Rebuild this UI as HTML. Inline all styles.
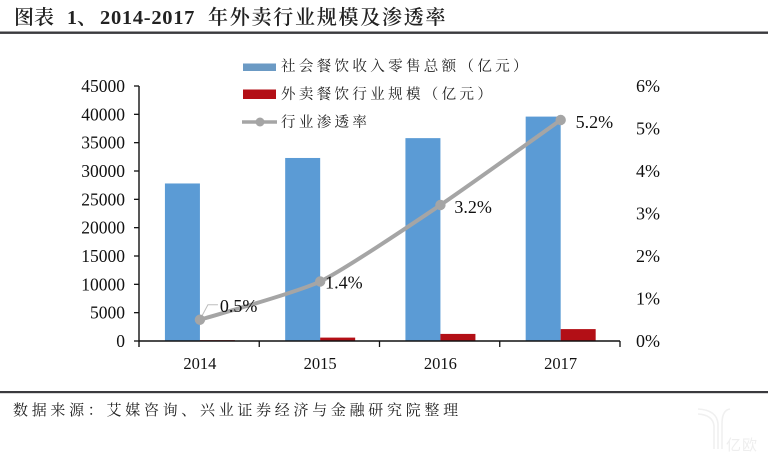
<!DOCTYPE html>
<html lang="zh">
<head>
<meta charset="utf-8">
<title>外卖行业规模及渗透率</title>
<style>
html,body{margin:0;padding:0;background:#fff;}
body{width:768px;height:459px;overflow:hidden;position:relative;}
svg{display:block;position:absolute;left:0;top:0;}
.cjk{font-family:"Liberation Serif","Noto Serif CJK SC",serif;fill:#222;}
.num{font-family:"Liberation Serif",serif;fill:#111;font-size:17.5px;}
</style>
</head>
<body>
<svg id="chart" width="768" height="459" viewBox="0 0 768 459" xmlns="http://www.w3.org/2000/svg">
  <text class="cjk" y="24" font-size="20" font-weight="600"><tspan x="14">图表</tspan><tspan x="67">1、</tspan><tspan x="100" letter-spacing="0.7" font-size="20.5">2014-2017</tspan><tspan x="208" letter-spacing="1.75">年外卖行业规模及渗透率</tspan></text>
  <rect x="0" y="31.5" width="768" height="2.4" fill="#3a3a3e"></rect>
  <rect x="0" y="391" width="768" height="2.2" fill="#3a3a3e"></rect>
  <text class="cjk" x="13" y="415" font-size="15" letter-spacing="3.7">数据来源：艾媒咨询、兴业证券经济与金融研究院整理</text>

  <g>
    <rect x="243" y="63.5" width="33" height="7.5" fill="#6b9ac4"></rect>
    <text class="cjk" x="281" y="71" font-size="14.5" letter-spacing="3.35">社会餐饮收入零售总额（亿元）</text>
    <rect x="243" y="89.5" width="33" height="9.5" fill="#b30f16"></rect>
    <text class="cjk" x="281" y="99" font-size="14.5" letter-spacing="3.35">外卖餐饮行业规模（亿元）</text>
    <line x1="242" y1="122" x2="277" y2="122" stroke="#a5a5a5" stroke-width="3.5"></line>
    <circle cx="260" cy="122" r="4.5" fill="#a5a5a5"></circle>
    <text class="cjk" x="281" y="127" font-size="14.5" letter-spacing="3.35">行业渗透率</text>
  </g>

  <g fill="none" stroke="#f0f0f0" stroke-width="1.6">
    <path d="M698 409 Q717 410 718 424 V449"></path>
    <path d="M698 414 Q713 415 714 426 V449"></path>
    <path d="M730 409 Q722 410 722 424 V449"></path>
    <text x="726" y="450" font-family="'Noto Sans CJK SC',sans-serif" font-size="15" letter-spacing="1" fill="#eeeeee" stroke="none">亿欧</text>
  </g>
</svg>
<script>
var categories = ['2014', '2015', '2016', '2017'];
var totalCatering = [27800, 32300, 35800, 39600];
var takeaway = [150, 600, 1250, 2100];
var penetration = [0.5, 1.4, 3.2, 5.2];
var penetrationLabels = ['0.5%', '1.4%', '3.2%', '5.2%'];
var leftTicks = [0, 5000, 10000, 15000, 20000, 25000, 30000, 35000, 40000, 45000];
var rightTicks = [0, 1, 2, 3, 4, 5, 6];

var svgNS = 'http://www.w3.org/2000/svg';
var svg = document.getElementById('chart');
var plotLeft = 139, plotRight = 620, plotTop = 86, plotBottom = 341;
var leftMax = 45000, rightMax = 6;

function yLeft(v) { return plotBottom - (v / leftMax) * (plotBottom - plotTop); }
function yRight(v) { return plotBottom - (v / rightMax) * (plotBottom - plotTop); }
function xBand(i) { return plotLeft + i * (plotRight - plotLeft) / categories.length; }
function xCenter(i) { return xBand(i) + (plotRight - plotLeft) / categories.length / 2 + 0.8; }

function make(tag, attrs, text) {
  var el = document.createElementNS(svgNS, tag);
  for (var k in attrs) { el.setAttribute(k, attrs[k]); }
  if (text !== undefined) { el.textContent = text; }
  svg.appendChild(el);
  return el;
}

var barW = 35;
categories.forEach(function (c, i) {
  var cx = xCenter(i);
  var b1 = make('rect', { x: cx - barW, y: yLeft(totalCatering[i]), width: barW, height: plotBottom - yLeft(totalCatering[i]), fill: '#5b9bd5' });
  
  
  var b2 = make('rect', { x: cx, y: yLeft(takeaway[i]), width: barW, height: plotBottom - yLeft(takeaway[i]), fill: '#b30f16' });
  
  
});

var leftAxis = make('line', { x1: plotLeft, y1: plotTop, x2: plotLeft, y2: plotBottom + 6, stroke: '#111', 'stroke-width': 1.4 });


var xAxis = make('line', { x1: plotLeft, y1: plotBottom, x2: plotRight, y2: plotBottom, stroke: '#111', 'stroke-width': 1.4 });



leftTicks.forEach(function (t) {
  var tick = make('line', { x1: plotLeft - 5, y1: yLeft(t), x2: plotLeft, y2: yLeft(t), stroke: '#111', 'stroke-width': 1.3 });
  
  
  var label = make('text', { x: 125, y: yLeft(t) + 6, 'text-anchor': 'end', 'class': 'num' }, String(t));
  
  
});

rightTicks.forEach(function (t) {
  var label = make('text', { x: 636, y: yRight(t) + 6, 'class': 'num', style: 'font-size:18px' }, t + '%');
  
  
});

for (var n = 1; n <= categories.length; n++) {
  var xt = make('line', { x1: xBand(n), y1: plotBottom, x2: xBand(n), y2: plotBottom + 6, stroke: '#111', 'stroke-width': 1.3 });
  
  
}

categories.forEach(function (c, i) {
  var lab = make('text', { x: xCenter(i), y: 369, 'text-anchor': 'middle', 'class': 'num', style: 'font-size:16.5px' }, c);
  
  
});

var pts = penetration.map(function (v, i) { return [xCenter(i), yRight(v)]; });
var d = 'M' + pts[0][0] + ' ' + pts[0][1];
for (var s = 0; s < pts.length - 1; s++) {
  var p0 = pts[Math.max(s - 1, 0)], p1 = pts[s], p2 = pts[s + 1], p3 = pts[Math.min(s + 2, pts.length - 1)];
  var k = 0.1;
  d += ' C' + (p1[0] + (p2[0] - p0[0]) * k) + ' ' + (p1[1] + (p2[1] - p0[1]) * k) + ' ' +
       (p2[0] - (p3[0] - p1[0]) * k) + ' ' + (p2[1] - (p3[1] - p1[1]) * k) + ' ' + p2[0] + ' ' + p2[1];
}
var linePath = make('path', { d: d, fill: 'none', stroke: '#a5a5a5', 'stroke-width': 4, 'stroke-linecap': 'round' });



var leader = make('path', { d: 'M' + pts[0][0] + ' ' + pts[0][1] + ' L' + (pts[0][0] + 8) + ' ' + (pts[0][1] - 15) + ' h10', fill: 'none', stroke: '#bdbdbd', 'stroke-width': 1 });



var labelDx = [20, 5, 14, 15];
var labelDy = [-8, 7, 8, 8];
penetration.forEach(function (v, i) {
  var m = make('circle', { cx: pts[i][0], cy: pts[i][1], r: 5.2, fill: '#a5a5a5' });
  
  
  var t = make('text', { x: pts[i][0] + labelDx[i], y: pts[i][1] + labelDy[i], 'class': 'num', style: 'font-size:18px' }, penetrationLabels[i]);
  
  
});
</script>
</body>
</html>
